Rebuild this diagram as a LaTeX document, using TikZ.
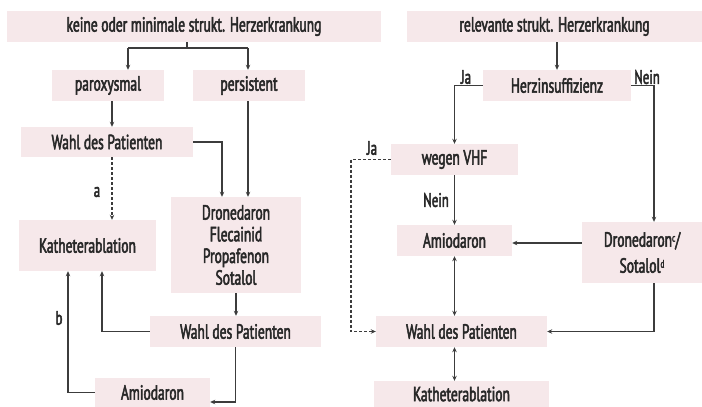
\documentclass[tikz,border=0pt]{standalone}
\usepackage{fontspec}
\setmainfont{PT Sans}[FakeStretch=0.66,FakeBold=2.5]
\usetikzlibrary{arrows.meta}
\definecolor{boxpink}{RGB}{246,232,234}
\definecolor{linegray}{RGB}{60,60,60}
\definecolor{textgray}{RGB}{40,40,40}
\begin{document}
\begin{tikzpicture}[x=1pt,y=-1pt,
  box/.style={fill=boxpink,inner sep=0pt,align=center,text=textgray,font=\fontsize{20.5}{21.7}\selectfont},
  conn/.style={draw=linegray,line width=1.1pt},
  arr/.style={conn,-{Stealth[length=5pt,width=4.5pt]}},
  darr/.style={conn,{Stealth[length=5pt,width=4.5pt]}-{Stealth[length=5pt,width=4.5pt]}},
  dotline/.style={dash pattern=on 3pt off 2pt},
  lbl/.style={text=textgray,font=\fontsize{19.5}{20}\selectfont,inner sep=0pt}]
\useasboundingbox (0,0) rectangle (702,407);

\node[box,minimum width=374pt,minimum height=31pt] (kein) at (194,26.5) {keine oder minimale strukt. Herzerkrankung};
\node[box,minimum width=112pt,minimum height=31pt] (parox) at (108,85.5) {paroxysmal};
\node[box,minimum width=112pt,minimum height=31pt] (pers) at (249,85.5) {persistent};
\node[box,minimum width=172pt,minimum height=30pt] (wahlA) at (107,142) {Wahl des Patienten};
\node[box,minimum width=130pt,minimum height=96pt] (dron) at (236,245) {Dronedaron\\Flecainid\\Propafenon\\Sotalol};
\node[box,minimum width=137pt,minimum height=51pt] (kathA) at (87.5,245.5) {Katheterablation};
\node[box,minimum width=171pt,minimum height=31pt] (wahlB) at (235.5,331.5) {Wahl des Patienten};
\node[box,minimum width=115pt,minimum height=29pt] (amioA) at (152.5,392.5) {Amiodaron};

\node[box,minimum width=295pt,minimum height=31pt] (rel) at (554.5,26.5) {relevante strukt. Herzerkrankung};
\node[box,minimum width=148pt,minimum height=31pt] (herz) at (557,85.5) {Herzinsuffizienz};
\node[box,minimum width=127pt,minimum height=31pt] (vhf) at (454.5,159.5) {wegen VHF};
\node[box,minimum width=115pt,minimum height=31pt] (amioB) at (454.5,240.5) {Amiodaron};
\node[box,minimum width=120pt,minimum height=61pt,font=\fontsize{20.5}{26}\selectfont] (dronB) at (642,252.5) {Dronedaron{\fontsize{11}{11}\selectfont\raisebox{5pt}{c}}/\\Sotalol{\fontsize{11}{11}\selectfont\raisebox{5pt}{d}}};
\node[box,minimum width=171pt,minimum height=31pt] (wahlC) at (461.5,331.5) {Wahl des Patienten};
\node[box,minimum width=175pt,minimum height=26pt] (kathB) at (461.5,394) {Katheterablation};

\coordinate (split) at (187,48);
\coordinate (sL) at (128,48);
\coordinate (sR) at (248,48);
\coordinate (xP) at (112,0);
\coordinate (xD1) at (222,0);
\coordinate (xK1) at (102,0);
\coordinate (xK2) at (68,0);
\coordinate (aR) at (236,402);
\coordinate (xN) at (654,0);
\coordinate (xJ) at (351,0);
\coordinate (yDA) at (0,243);

\draw[conn] (kein.south -| split) -- (split);
\draw[conn] (sL) -- (sR);
\draw[arr] (sL) -- (sL |- parox.north);
\draw[arr] (sR) -- (sR |- pers.north);
\draw[arr] (parox.south -| xP) -- (wahlA.north -| xP);
\draw[arr] (wahlA.east) -| (dron.north -| xD1);
\draw[arr] (pers.south -| sR) -- (dron.north -| sR);
\draw[arr,dotline] (wahlA.south -| xP) -- (kathA.north -| xP);
\draw[arr] (dron.south) -- (wahlB.north -| dron.south);
\draw[arr] (wahlB.west) -| (kathA.south -| xK1);
\draw[arr] (wahlB.south) |- (amioA.east |- aR);
\draw[arr] (amioA.west) -| (kathA.south -| xK2);

\draw[arr] (herz.north |- rel.south) -- (herz.north);
\draw[arr] (herz.west) -| (vhf.north);
\draw[arr] (herz.east) -| (dronB.north -| xN);
\draw[arr,dotline] (vhf.west) -| (xJ |- wahlC.west) -- (wahlC.west);
\draw[arr] (vhf.south) -- (amioB.north);
\draw[arr] (dronB.west |- yDA) -- (amioB.east |- yDA);
\draw[arr] (dronB.south -| xN) |- (wahlC.east);
\draw[darr] (amioB.south) -- (amioB.south |- wahlC.north);
\draw[darr] (wahlC.south -| amioB.south) -- (kathB.north -| amioB.south);

\node[lbl] (la) at (97,192) {a};
\node[lbl] (lb) at (59,318) {b};
\node[lbl] (lja) at (466,77) {Ja};
\node[lbl] (lnein) at (647,77) {Nein};
\node[lbl] (ljb) at (372,148) {Ja};
\node[lbl] (lneinb) at (436,200) {Nein};
\end{tikzpicture}
\end{document}
